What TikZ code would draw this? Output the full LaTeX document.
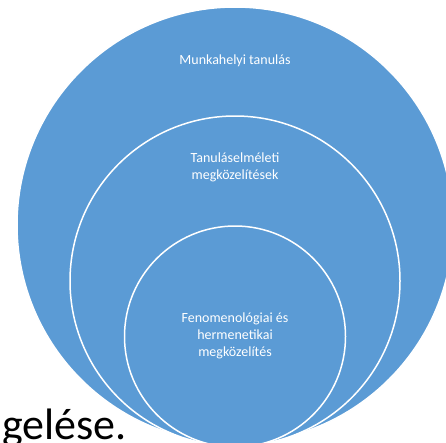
\documentclass[tikz,border=0pt]{standalone}
\usepackage{fontspec}
\setmainfont{Carlito}
\usetikzlibrary{positioning}
\definecolor{ringblue}{HTML}{5B9BD5}

\begin{document}
\begin{tikzpicture}[
                x=1pt, y=-1pt,
                ring/.style={circle, draw=white, line width=1.5pt, fill=ringblue, inner sep=0pt},
                ringtext/.style={text=white, font=\fontsize{14}{17}\selectfont, align=center}
                ]
                \clip (0,0) rectangle (446,442);
                % Define the circles
                \node (outer) [ring, minimum size=436pt] at (235,225) {};
                \node (middle) [ring, minimum size=330pt] at (235,281) {};
                \node (inner) [ring, minimum size=221pt] at (235,336.5) {};

                % Write the labels
                \node (work) [ringtext] at (235,61) {Munkahelyi tanulás};
                \node (theory) [ringtext] at (235,167.5) {Tanuláselméleti\\megközelítések};
                \node (pheno) [ringtext] at (235,336) {Fenomenológiai és\\hermenetikai\\megközelítés};
                \node (tail) [anchor=base west, inner sep=0pt, font=\fontsize{44}{44}\selectfont] at (2,439) {gelése.};
            \end{tikzpicture}
\end{document}
